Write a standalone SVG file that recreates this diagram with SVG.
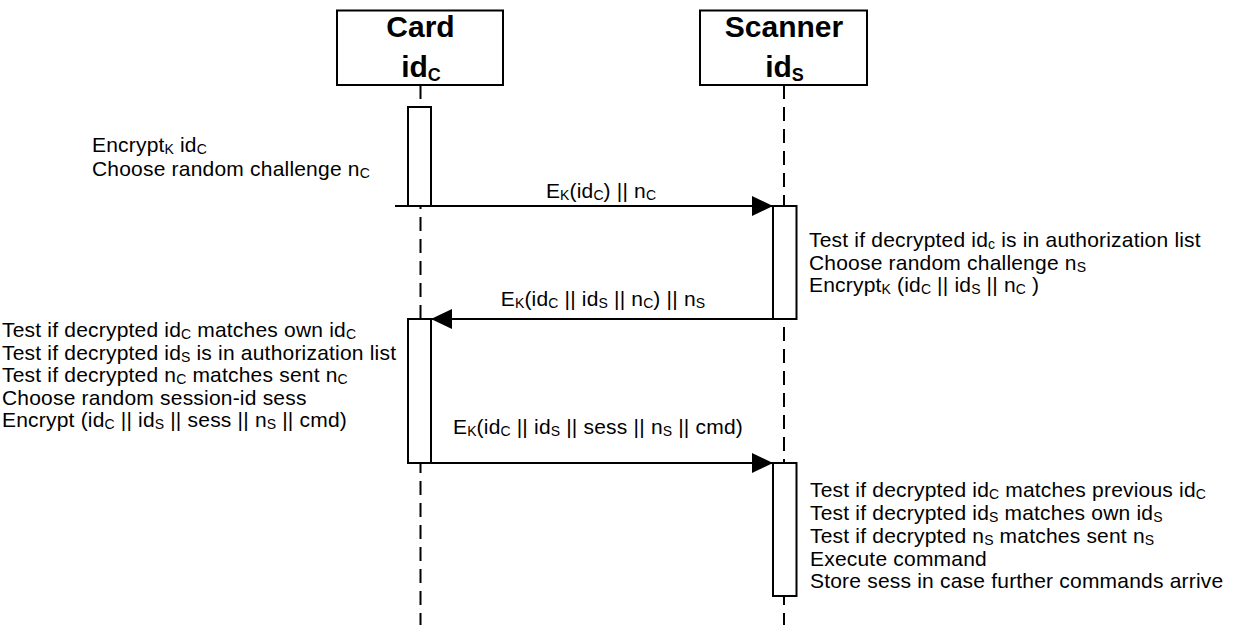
<svg xmlns="http://www.w3.org/2000/svg" width="1233" height="625" viewBox="0 0 1233 625">
<style>
.t{font-family:"Liberation Sans",Arial,sans-serif;font-size:21px;letter-spacing:0.2px;fill:#000}
.s{font-size:14px;letter-spacing:0}
.h{font-family:"Liberation Sans",Arial,sans-serif;font-size:30px;font-weight:bold;fill:#000;text-anchor:middle}
.hs{font-size:18px}
.box{fill:#fff;stroke:#000;stroke-width:2}
.life{stroke:#000;stroke-width:2;stroke-dasharray:14 8;fill:none}
.msg{stroke:#000;stroke-width:2;fill:none;marker-end:url(#ah)}
.mid{text-anchor:middle}
</style>
<defs>
<marker id="ah" markerUnits="userSpaceOnUse" markerWidth="22" markerHeight="22" refX="21" refY="10" orient="auto" viewBox="0 0 22 22">
<path d="M0,0 L21,10 L0,20 Z" fill="#000"/>
</marker>
</defs>
<rect width="1233" height="625" fill="#fff"/>

<g id="lifelines">
<line class="life" x1="420.5" y1="85" x2="420.5" y2="625"/>
<line class="life" x1="784" y1="85" x2="784" y2="625"/>
</g>

<g id="card">
<rect class="box" x="337" y="10.5" width="166" height="74.5"/>
<text class="h" x="420.5" y="37">Card</text>
<text class="h" x="421" y="77">id<tspan class="hs" dy="4">C</tspan></text>
</g>

<g id="scanner">
<rect class="box" x="700" y="10.5" width="167" height="74.5"/>
<text class="h" x="784" y="37">Scanner</text>
<text class="h" x="784.5" y="77">id<tspan class="hs" dy="4">S</tspan></text>
</g>

<g id="card-activation-1"><rect class="box" x="408" y="107" width="23" height="99"/></g>
<g id="scanner-activation-1"><rect class="box" x="773" y="206" width="23.5" height="113"/></g>
<g id="card-activation-2"><rect class="box" x="408" y="319" width="23" height="144"/></g>
<g id="scanner-activation-2"><rect class="box" x="773" y="463" width="23.5" height="133"/></g>

<g id="connectors">
<line class="msg" x1="395" y1="206" x2="773" y2="206"/>
<line class="msg" x1="796.5" y1="319" x2="431" y2="319"/>
<line class="msg" x1="408" y1="463" x2="773" y2="463"/>
</g>

<g id="labels">
<text class="t mid" x="601" y="198">E<tspan class="s" dy="2">K</tspan><tspan dy="-2">(id</tspan><tspan class="s" dy="2">C</tspan><tspan dy="-2">) || n</tspan><tspan class="s" dy="2">C</tspan></text>
<text class="t mid" x="603" y="306">E<tspan class="s" dy="2">K</tspan><tspan dy="-2">(id</tspan><tspan class="s" dy="2">C</tspan><tspan dy="-2"> || id</tspan><tspan class="s" dy="2">S</tspan><tspan dy="-2"> || n</tspan><tspan class="s" dy="2">C</tspan><tspan dy="-2">) || n</tspan><tspan class="s" dy="2">S</tspan></text>
<text class="t mid" x="598" y="434">E<tspan class="s" dy="2">K</tspan><tspan dy="-2">(id</tspan><tspan class="s" dy="2">C</tspan><tspan dy="-2"> || id</tspan><tspan class="s" dy="2">S</tspan><tspan dy="-2"> || sess || n</tspan><tspan class="s" dy="2">S</tspan><tspan dy="-2"> || cmd)</tspan></text>
</g>

<g id="card-notes-1">
<text class="t" x="92" y="152">Encrypt<tspan class="s" dy="2">K</tspan><tspan dy="-2"> id</tspan><tspan class="s" dy="2">C</tspan></text>
<text class="t" x="92" y="175.5">Choose random challenge n<tspan class="s" dy="2">C</tspan></text>
</g>

<g id="scanner-notes-1">
<text class="t" x="809" y="247">Test if decrypted id<tspan class="s" dy="2">c</tspan><tspan dy="-2"> is in authorization list</tspan></text>
<text class="t" x="809" y="269.5">Choose random challenge n<tspan class="s" dy="2">S</tspan></text>
<text class="t" x="809" y="292">Encrypt<tspan class="s" dy="2">K</tspan><tspan dy="-2"> (id</tspan><tspan class="s" dy="2">C</tspan><tspan dy="-2"> || id</tspan><tspan class="s" dy="2">S</tspan><tspan dy="-2"> || n</tspan><tspan class="s" dy="2">C</tspan><tspan dy="-2"> )</tspan></text>
</g>

<g id="card-notes-2">
<text class="t" x="2" y="337">Test if decrypted id<tspan class="s" dy="2">C</tspan><tspan dy="-2"> matches own id</tspan><tspan class="s" dy="2">C</tspan></text>
<text class="t" x="2" y="359.5">Test if decrypted id<tspan class="s" dy="2">S</tspan><tspan dy="-2"> is in authorization list</tspan></text>
<text class="t" x="2" y="382">Test if decrypted n<tspan class="s" dy="2">C</tspan><tspan dy="-2"> matches sent n</tspan><tspan class="s" dy="2">C</tspan></text>
<text class="t" x="2" y="404.5">Choose random session-id sess</text>
<text class="t" x="2" y="427">Encrypt (id<tspan class="s" dy="2">C</tspan><tspan dy="-2"> || id</tspan><tspan class="s" dy="2">S</tspan><tspan dy="-2"> || sess || n</tspan><tspan class="s" dy="2">S</tspan><tspan dy="-2"> || cmd)</tspan></text>
</g>

<g id="scanner-notes-2">
<text class="t" x="810" y="497">Test if decrypted id<tspan class="s" dy="2">C</tspan><tspan dy="-2"> matches previous id</tspan><tspan class="s" dy="2">C</tspan></text>
<text class="t" x="810" y="520">Test if decrypted id<tspan class="s" dy="2">S</tspan><tspan dy="-2"> matches own id</tspan><tspan class="s" dy="2">S</tspan></text>
<text class="t" x="810" y="543">Test if decrypted n<tspan class="s" dy="2">S</tspan><tspan dy="-2"> matches sent n</tspan><tspan class="s" dy="2">S</tspan></text>
<text class="t" x="810" y="565.5">Execute command</text>
<text class="t" x="810" y="588">Store sess in case further commands arrive</text>
</g>
</svg>
